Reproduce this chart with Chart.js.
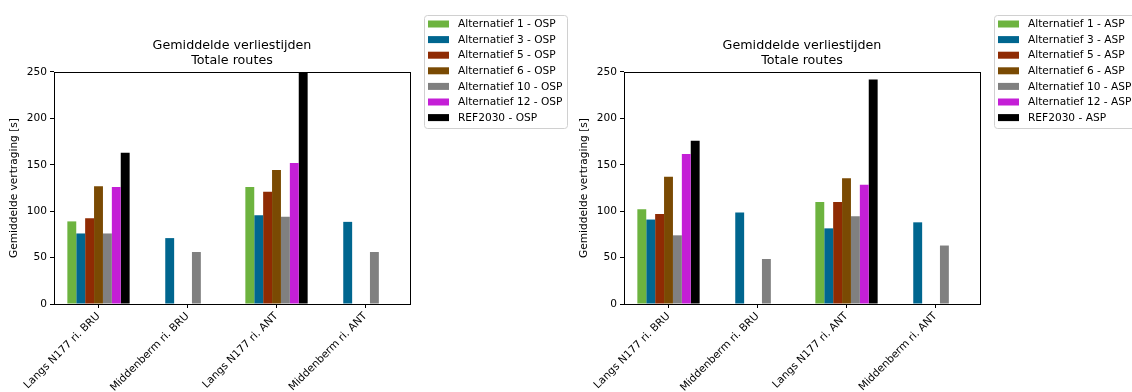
<!DOCTYPE html>
<html>
<head>
<meta charset="utf-8">
<script src="https://cdn.jsdelivr.net/npm/chart.js@4/dist/chart.umd.min.js"></script>
<style>
  body { margin: 0; background: #ffffff; }
  canvas { position: absolute; top: 0; }
  #chartOsp { left: 0; }
  #chartAsp { left: 570px; }
</style>
</head>
<body>
<canvas id="chartOsp" width="570" height="392"></canvas>
<canvas id="chartAsp" width="562" height="392"></canvas>
<script>
// categories (x axis)
const categories = ['Langs N177 ri. BRU', 'Middenberm ri. BRU', 'Langs N177 ri. ANT', 'Middenberm ri. ANT'];
const seriesNames = ['Alternatief 1', 'Alternatief 3', 'Alternatief 5', 'Alternatief 6', 'Alternatief 10', 'Alternatief 12', 'REF2030'];
const seriesColors = ['#6db33f', '#00668f', '#8f2b03', '#7a4a03', '#808080', '#c41fd6', '#000000'];

// OSP values [s]
const alt1Osp = [89, null, 126, null];
const alt3Osp = [76, 71, 95.5, 88.5];
const alt5Osp = [92.5, null, 121, null];
const alt6Osp = [127, null, 144.5, null];
const alt10Osp = [76, 56, 94, 56];
const alt12Osp = [126, null, 152, null];
const refOsp = [163, null, 265, null];

// ASP values [s]
const alt1Asp = [102, null, 110, null];
const alt3Asp = [91, 98.5, 81.5, 88];
const alt5Asp = [97, null, 110, null];
const alt6Asp = [137, null, 135.5, null];
const alt10Asp = [74, 48.5, 94.5, 63];
const alt12Asp = [161.5, null, 128.5, null];
const refAsp = [176, null, 242, null];

const yMin = 0, yMax = 250, yStep = 50;

const FONT = '"DejaVu Sans", sans-serif';
const SMALL = 10.6;

// box around the plot area (matplotlib spines)
const frame = {
    id: 'frame',
    afterDraw(chart) {
        const a = chart.chartArea, ctx = chart.ctx;
        ctx.save();
        ctx.strokeStyle = '#000';
        ctx.lineWidth = 1;
        ctx.strokeRect(Math.round(a.left) + 0.5, Math.round(a.top) + 0.5,
            Math.round(a.right - a.left), Math.round(a.bottom - a.top));
        ctx.restore();
    }
};

// legend in a rounded box, placed outside the plot
const boxedLegend = {
    id: 'boxedLegend',
    afterDraw(chart, args, opts) {
        const ctx = chart.ctx;
        ctx.save();
        ctx.strokeStyle = '#d0d0d0';
        ctx.lineWidth = 1;
        ctx.beginPath();
        ctx.roundRect(opts.x + 0.5, opts.y + 0.5, opts.w, opts.h, 3);
        ctx.stroke();
        ctx.font = SMALL + 'px ' + FONT;
        ctx.textBaseline = 'middle';
        chart.data.datasets.forEach((ds, i) => {
            const cy = opts.y + 9 + i * 15.6;
            ctx.fillStyle = ds.backgroundColor;
            ctx.fillRect(opts.x + 4, cy - 3.5, 21, 7);
            ctx.fillStyle = '#000';
            ctx.fillText(ds.label, opts.x + 34, cy + 0.5);
        });
        ctx.restore();
    }
};

function makeChart(canvasId, suffix, values, rightPad) {
    const datasets = seriesNames.map((name, i) => ({
        label: name + ' - ' + suffix,
        data: values[i],
        backgroundColor: seriesColors[i],
        borderWidth: 0
    }));

    return new Chart(document.getElementById(canvasId), {
        type: 'bar',
        data: { labels: categories, datasets: datasets },
        options: {
            responsive: false,
            animation: false,
            devicePixelRatio: 1,
            categoryPercentage: 0.7,
            barPercentage: 1.0,
            layout: { padding: { left: 0, top: 0, right: rightPad, bottom: 0 } },
            scales: {
                x: {
                    grid: { display: true, drawOnChartArea: false, offset: false, tickLength: 4, color: '#000' },
                    border: { display: false },
                    ticks: {
                        autoSkip: false, minRotation: 45, maxRotation: 45, padding: 2,
                        color: '#000', font: { family: FONT, size: SMALL }
                    },
                    afterFit(scale) { scale.height = 88; }
                },
                y: {
                    min: yMin,
                    max: yMax,
                    grid: { display: true, drawOnChartArea: false, tickLength: 4, color: '#000' },
                    border: { display: false },
                    ticks: { stepSize: yStep, padding: 3, color: '#000', font: { family: FONT, size: SMALL } },
                    title: {
                        display: true, text: 'Gemiddelde vertraging [s]', color: '#000',
                        font: { family: FONT, size: SMALL }, padding: { top: 8, bottom: 0 }
                    },
                    afterFit(scale) { scale.width = 54; }
                }
            },
            plugins: {
                legend: { display: false },
                tooltip: { enabled: false },
                title: {
                    display: true,
                    fullSize: false,
                    text: ['Gemiddelde verliestijden', 'Totale routes'],
                    color: '#000',
                    font: { family: FONT, size: 12.7, weight: 'normal', lineHeight: 1.18 },
                    padding: { top: 38, bottom: 4 }
                },
                boxedLegend: { x: 424, y: 15, w: 143, h: 113 }
            }
        },
        plugins: [frame, boxedLegend]
    });
}

makeChart('chartOsp', 'OSP', [alt1Osp, alt3Osp, alt5Osp, alt6Osp, alt10Osp, alt12Osp, refOsp], 160);
makeChart('chartAsp', 'ASP', [alt1Asp, alt3Asp, alt5Asp, alt6Asp, alt10Asp, alt12Asp, refAsp], 152);
</script>
</body>
</html>
